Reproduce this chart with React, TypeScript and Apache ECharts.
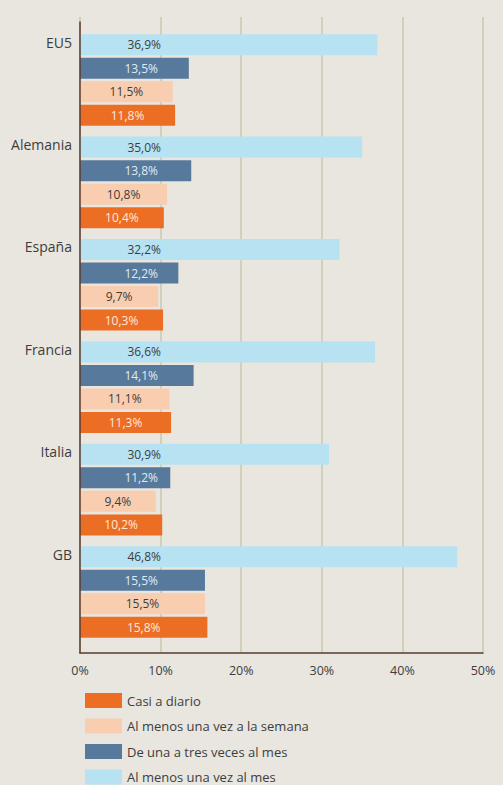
import React, { useEffect, useRef } from "react";
import * as echarts from "echarts";

const categories = ["EU5", "Alemania", "España", "Francia", "Italia", "GB"];
const seriesNames = [
  "Al menos una vez al mes",
  "De una a tres veces al mes",
  "Al menos una vez a la semana",
  "Casi a diario",
];
const mensual = [36.9, 35.0, 32.2, 36.6, 30.9, 46.8];
const unaATres = [13.5, 13.8, 12.2, 14.1, 11.2, 15.5];
const semanal = [11.5, 10.8, 9.7, 11.1, 9.4, 15.5];
const diario = [11.8, 10.4, 10.3, 11.3, 10.2, 15.8];
const legendOrder = [
  "Casi a diario",
  "Al menos una vez a la semana",
  "De una a tres veces al mes",
  "Al menos una vez al mes",
];

const FONT = "'Open Sans', 'Noto Sans', sans-serif";
const colors = ["#b7e2f2", "#56799c", "#f9cdb0", "#ec6e24"];

const fmt = (v: number) => v.toFixed(1).replace(".", ",") + "%";

export default function App() {
  const ref = useRef<HTMLDivElement>(null);
  useEffect(() => {
    document.body.style.margin = "0";
    const chart = echarts.init(ref.current!, null, { renderer: "svg" });
    const dataSets = [mensual, unaATres, semanal, diario];
    const labelCfg = [
      { position: [81, "50%"], align: "right", color: "#3d3d3d" },
      { position: [78, "50%"], align: "right", color: "#e3ebf2" },
      { position: "inside", align: "center", color: "#3d3d3d" },
      { position: "inside", align: "center", color: "#fde9dc" },
    ];
    chart.setOption({
      animation: false,
      backgroundColor: "#e8e6df",
      textStyle: { fontFamily: FONT },
      legend: {
        data: legendOrder,
        orient: "vertical",
        left: 85,
        top: 693,
        padding: 0,
        height: 100,
        itemWidth: 37,
        itemHeight: 15,
        itemGap: 10.5,
        icon: "rect",
        textStyle: { color: "#3d3d3d", fontSize: 13, fontFamily: FONT },
      },
      grid: [
        { left: 80, width: 403, top: 17, height: 636 },
        { left: 80, width: 403, top: 22, height: 631 },
        { left: 80, width: 403, top: 28.8, height: 614.4 },
      ],
      xAxis: [
        {
          gridIndex: 0,
          type: "value",
          min: 0,
          max: 50,
          interval: 10,
          axisLine: { show: true, onZero: false, lineStyle: { color: "#5a3b30", width: 1.5 } },
          axisTick: { show: false },
          splitLine: { show: true, lineStyle: { color: "#c9c8b0", width: 1.5 } },
          axisLabel: {
            formatter: "{value}%",
            color: "#3d3d3d",
            fontSize: 12.5,
            margin: 11,
            fontFamily: FONT,
          },
        },
        { gridIndex: 1, type: "value", min: 0, max: 50, show: false },
        { gridIndex: 2, type: "value", min: 0, max: 50, show: false },
      ],
      yAxis: [
        { gridIndex: 0, type: "value", show: false },
        {
          gridIndex: 1,
          type: "value",
          z: 10,
          axisLine: { show: true, lineStyle: { color: "#5a3b30", width: 1.5 } },
          axisTick: { show: false },
          axisLabel: { show: false },
          splitLine: { show: false },
        },
        {
          gridIndex: 2,
          type: "category",
          inverse: true,
          data: categories,
          axisLine: { show: false },
          axisTick: { show: false },
          splitLine: { show: false },
          axisLabel: {
            color: "#3d3d3d",
            fontSize: 14,
            margin: 8,
            lineHeight: 19,
            fontFamily: FONT,
            formatter: (v: string) => v + "\n\n\n\n",
          },
        },
      ],
      series: seriesNames.map((name, i) => ({
        name,
        type: "bar",
        xAxisIndex: 2,
        yAxisIndex: 2,
        data: dataSets[i],
        barWidth: 21,
        barGap: "12%",
        itemStyle: { color: colors[i] },
        label: {
          show: true,
          position: labelCfg[i].position,
          align: labelCfg[i].align,
          verticalAlign: "middle",
          color: labelCfg[i].color,
          fontSize: 12,
          fontFamily: FONT,
          formatter: (p: any) => fmt(p.value),
        },
      })),
    });
    return () => chart.dispose();
  }, []);
  return (
    <div
      ref={ref}
      style={{ width: 503, height: 785, background: "#e8e6df" }}
    />
  );
}
